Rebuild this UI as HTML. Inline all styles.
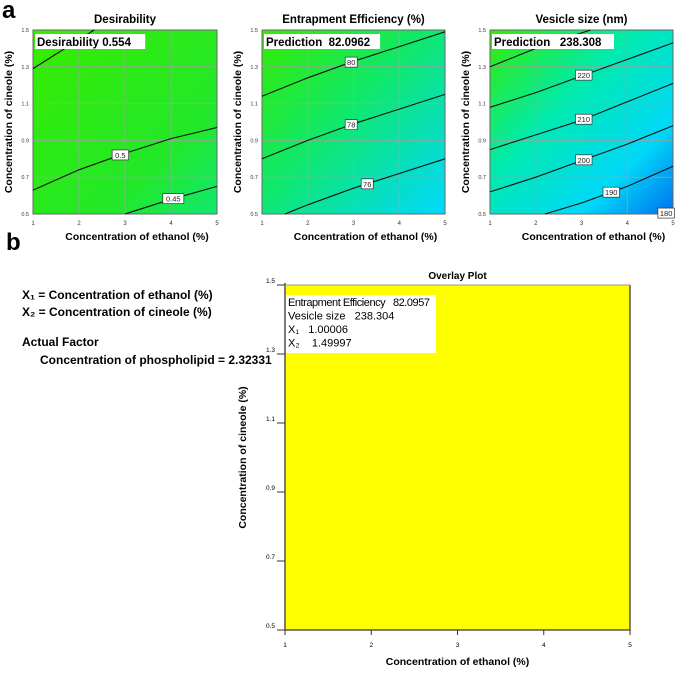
<!DOCTYPE html>
<html><head><meta charset="utf-8"><style>
body{margin:0;background:#fff;width:676px;height:670px;overflow:hidden;font-family:"Liberation Sans",sans-serif}
svg text{font-family:"Liberation Sans",sans-serif;white-space:pre}
</style></head><body>
<svg id="s" width="676" height="670">
<defs>
<linearGradient id="g1" x1="0" y1="0" x2="1" y2="1"><stop offset="0" stop-color="#38ec00"/><stop offset="0.7" stop-color="#22e82a"/><stop offset="1" stop-color="#11e870"/></linearGradient>
<linearGradient id="g2" x1="0" y1="0" x2="1" y2="1"><stop offset="0" stop-color="#34ec00"/><stop offset="0.45" stop-color="#10e86a"/><stop offset="1" stop-color="#00d8ff"/></linearGradient>
<linearGradient id="g3" x1="0" y1="0" x2="1" y2="1"><stop offset="0" stop-color="#34ec00"/><stop offset="0.4" stop-color="#00eab0"/><stop offset="0.75" stop-color="#00d8f8"/><stop offset="1" stop-color="#0070f0"/></linearGradient>
</defs>
</svg>
<script>
const xTicks=[1,2,3,4,5];
const yTicks=[0.5,0.7,0.9,1.1,1.3,1.5];
const yTickLabels=["0.5","0.7","0.9","1.1","1.3","1.5"];
const desX1=[1,2.33], desY1=[1.29,1.5];
const desX2=[1,2,3,4,5], desY2=[0.63,0.74,0.83,0.91,0.97];
const desX3=[3,4,5], desY3=[0.5,0.58,0.65];
const eeX1=[1,2,3,4,5], eeY1=[1.14,1.24,1.33,1.41,1.49];
const eeX2=[1,2,3,4,5], eeY2=[0.80,0.90,0.99,1.07,1.15];
const eeX3=[1.5,2,3,4,5], eeY3=[0.5,0.55,0.64,0.72,0.80];
const vsX1=[1,2.2,3.2], vsY1=[1.30,1.42,1.5];
const vsX2=[1,2,3,4,5], vsY2=[1.08,1.16,1.25,1.34,1.43];
const vsX3=[1,2,3,4,5], vsY3=[0.85,0.93,1.01,1.11,1.21];
const vsX4=[1,2,3,4,5], vsY4=[0.62,0.70,0.79,0.88,0.98];
const vsX5=[2.2,3,4,5], vsY5=[0.5,0.56,0.65,0.76];
const vsX6=[4.8,5], vsY6=[0.5,0.52];
const NS="http://www.w3.org/2000/svg";
const svg=document.getElementById('s');
function el(t,a,txt,p){const e=document.createElementNS(NS,t);for(const k in a)e.setAttribute(k,a[k]);if(txt!=null)e.textContent=txt;(p||svg).appendChild(e);return e;}
function interp(xs,ys,x){for(let i=0;i<xs.length-1;i++){if(x>=xs[i]&&x<=xs[i+1]){return ys[i]+(ys[i+1]-ys[i])*(x-xs[i])/(xs[i+1]-xs[i]);}}return ys[ys.length-1];}
function panel(L,T,W,H,grad,title,pred,contours,name){
  const g=el('g',{});
  
  
  const sx=v=>L+(v-1)/4*W, sy=v=>T+(1.5-v)/1*H;
  el('rect',{x:L,y:T,width:W,height:H,fill:grad},null,g);
  xTicks.forEach(v=>{el('line',{x1:sx(v),y1:T,x2:sx(v),y2:T+H,stroke:'#a0a0a0','stroke-width':1,opacity:0.8},null,g);
    const t=el('text',{x:sx(v),y:T+H+11,'font-size':6,'text-anchor':'middle',fill:'#333'},String(v),g);
    });
  yTicks.forEach((v,i)=>{el('line',{x1:L,y1:sy(v),x2:L+W,y2:sy(v),stroke:'#a0a0a0','stroke-width':1,opacity:0.8},null,g);
    const t=el('text',{x:L-4,y:sy(v)+2,'font-size':5.5,'text-anchor':'end',fill:'#333'},yTickLabels[i],g);
    });
  el('rect',{x:L,y:T,width:W,height:H,fill:'none',stroke:'#666','stroke-width':1},null,g);
  contours.forEach(c=>{
    const d=c.xs.map((x,i)=>(i?'L':'M')+sx(x).toFixed(1)+','+sy(c.ys[i]).toFixed(1)).join(' ');
    const p=el('path',{d:d,fill:'none',stroke:'#111','stroke-width':1.1},null,g);
    
    if(c.lab){const lx=sx(c.lx),ly=sy(interp(c.xs,c.ys,c.lx));const w=c.lab.length*4.5+3;
      el('rect',{x:lx-w/2,y:ly-5,width:w,height:10,fill:'#fff',stroke:'#333','stroke-width':0.7},null,g);
      const t=el('text',{x:lx,y:ly+3,'font-size':7.5,'text-anchor':'middle',fill:'#222'},c.lab,g);
      }
  });
  const tt=el('text',{x:L+W/2,y:T-7,'font-size':11.5,'font-weight':'bold','text-anchor':'middle'},title,g);
  
  const pw=pred.length*5.9+4;
  el('rect',{x:L+2,y:T+4,width:pw,height:15,fill:'#fff'},null,g);
  const pt=el('text',{x:L+4,y:T+16,'font-size':11.5,'font-weight':'bold'},pred,g);
  
  const xt=el('text',{x:L+W/2+12,y:T+H+26,'font-size':10.5,'font-weight':'bold','text-anchor':'middle'},'Concentration of ethanol (%)',g);
  
  const yt=el('text',{x:0,y:0,'font-size':10.5,'font-weight':'bold','text-anchor':'middle',transform:`translate(${L-21},${T+H/2}) rotate(-90)`},'Concentration of cineole (%)',g);
  
}
panel(33,30,184,184,'url(#g1)','Desirability','Desirability 0.554',[
 {xs:desX1,ys:desY1},{xs:desX2,ys:desY2,lab:'0.5',lx:2.9},{xs:desX3,ys:desY3,lab:'0.45',lx:4.05}],'desirability-panel');
panel(262,30,183,184,'url(#g2)','Entrapment Efficiency (%)','Prediction  82.0962',[
 {xs:eeX1,ys:eeY1,lab:'80',lx:2.95},{xs:eeX2,ys:eeY2,lab:'78',lx:2.95},{xs:eeX3,ys:eeY3,lab:'76',lx:3.3}],'entrapment-panel');
panel(490,30,183,184,'url(#g3)','Vesicle size (nm)','Prediction   238.308',[
 {xs:vsX1,ys:vsY1},{xs:vsX2,ys:vsY2,lab:'220',lx:3.05},{xs:vsX3,ys:vsY3,lab:'210',lx:3.05},{xs:vsX4,ys:vsY4,lab:'200',lx:3.05},{xs:vsX5,ys:vsY5,lab:'190',lx:3.65},{xs:vsX6,ys:vsY6,lab:'180',lx:4.85}],'vesicle-panel');
(function(){
 const L=285,T=285,W=345,H=345;const sx=v=>L+(v-1)/4*W, sy=v=>T+(1.5-v)*H;
 const g=el('g',{});
 
 
 el('rect',{x:L,y:T,width:W,height:H,fill:'#ffff00'},null,g);
 el('path',{d:`M${L},${T-2} V${T+H} H${L+W} V${T}`,fill:'none',stroke:'#555','stroke-width':1.5},null,g);
 el('line',{x1:L,y1:T,x2:L+W,y2:T,stroke:'#999','stroke-width':1},null,g);
 xTicks.forEach(v=>{el('line',{x1:sx(v),y1:T+H,x2:sx(v),y2:T+H+5,stroke:'#333'},null,g);
  const t=el('text',{x:sx(v),y:T+H+17,'font-size':6.5,'text-anchor':'middle'},String(v),g);
  });
 yTicks.forEach((v,i)=>{el('line',{x1:L-8,y1:sy(v),x2:L,y2:sy(v),stroke:'#333'},null,g);
  const t=el('text',{x:L-10,y:sy(v)-2,'font-size':6.5,'text-anchor':'end'},yTickLabels[i],g);
  });
 const tt=el('text',{x:L+W/2,y:T-6,'font-size':10,'font-weight':'bold','text-anchor':'middle'},'Overlay Plot',g);
 
 el('rect',{x:L+1,y:T+10,width:150,height:58,fill:'#fff'},null,g);
 ['Entrapment Efficiency   82.0957','Vesicle size   238.304','X\u2081   1.00006','X\u2082    1.49997'].forEach((s,i)=>{
  const t=el('text',{x:L+3,y:T+21+i*13.5,'font-size':11,textLength:(i==0?142:null)},s,g);
  if(i!=0)t.removeAttribute('textLength');
  });
 const xt=el('text',{x:L+W/2,y:665,'font-size':10.5,'font-weight':'bold','text-anchor':'middle'},'Concentration of ethanol (%)',g);
 
 const yt=el('text',{x:0,y:0,'font-size':10.5,'font-weight':'bold','text-anchor':'middle',transform:`translate(246,${T+H/2}) rotate(-90)`},'Concentration of cineole (%)',g);
 
})();
const texts=[['a',2,18,24,'bold','panel-a-label'],['b',6,250,24,'bold','panel-b-label'],
 ['X\u2081 = Concentration of ethanol (%)',22,299,12,'bold','x1-definition'],['X\u2082 = Concentration of cineole (%)',22,316,12,'bold','x2-definition'],
 ['Actual Factor',22,346,12,'bold','actual-factor-heading'],['Concentration of phospholipid = 2.32331',40,364,12,'bold','phospholipid-factor']];
texts.forEach(a=>{const t=el('text',{x:a[1],y:a[2],'font-size':a[3],'font-weight':a[4]},a[0]);
 });
</script>
</body></html>
